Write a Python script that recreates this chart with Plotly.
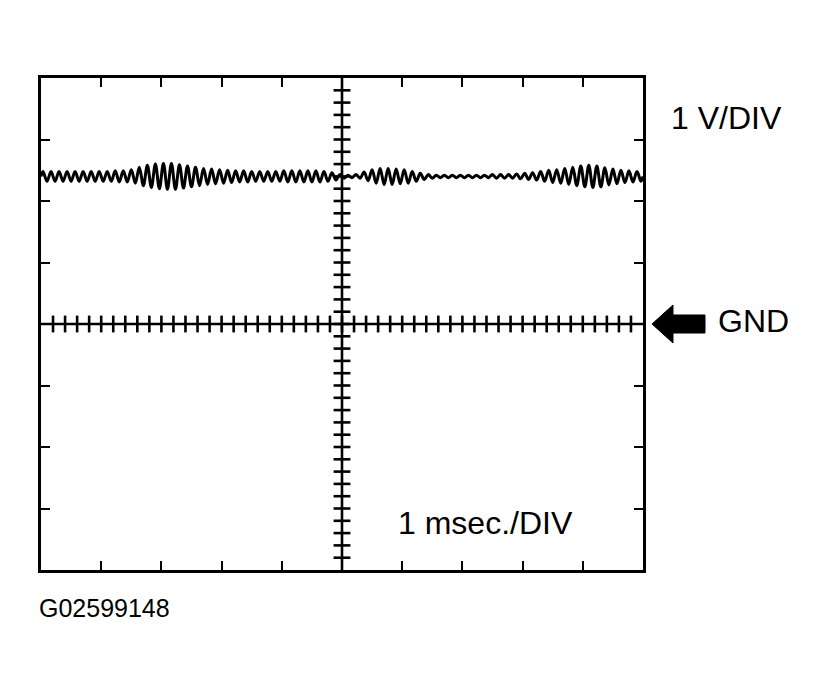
import numpy as np
import plotly.graph_objects as go

# ---- data ----
time_per_div_ms = 1.0
volts_per_div = 1.0
n_div_x = 10
n_div_y = 8
dc_level_v = 2.4          # trace level above GND
cycle_period_ms = 10.0 / 75   # one oscillation cycle (about 75 cycles on screen)
# peak amplitude (V) of each oscillation cycle, left to right
cycle_amplitude_v = [
    0.08, 0.08, 0.08, 0.08, 0.08, 0.08, 0.08, 0.08, 0.08, 0.09,
    0.09, 0.11, 0.15, 0.18, 0.20, 0.21, 0.21, 0.19, 0.17, 0.15,
    0.13, 0.12, 0.11, 0.10, 0.09, 0.09, 0.08, 0.08, 0.08, 0.08,
    0.09, 0.09, 0.09, 0.09, 0.09, 0.08, 0.06, 0.03, 0.02, 0.03,
    0.07, 0.11, 0.13, 0.13, 0.12, 0.11, 0.08, 0.05, 0.03, 0.02,
    0.02, 0.02, 0.02, 0.02, 0.02, 0.02, 0.03, 0.03, 0.03, 0.04,
    0.05, 0.06, 0.08, 0.10, 0.11, 0.13, 0.15, 0.17, 0.18, 0.17,
    0.14, 0.12, 0.10, 0.09, 0.08,
]
labels = {"volts": "1 V/DIV", "time": "1 msec./DIV", "gnd": "GND", "code": "G02599148"}

# ---- build trace from the extrema ----
t_pts = [0.0]
v_pts = [dc_level_v]
for k, a in enumerate(cycle_amplitude_v):
    t_pts += [(k + 0.25) * cycle_period_ms, (k + 0.75) * cycle_period_ms]
    v_pts += [dc_level_v + a, dc_level_v - a]
t_pts.append(n_div_x * time_per_div_ms)
v_pts.append(dc_level_v)

W, H = 828, 693
OFF = 8  # page body margin
L, T = 33, 70
pw, ph = 602, 492
R, B = W - L - pw, H - T - ph

def px(x):
    return (x - OFF - L) / pw

def py(y):
    return (H - B - (y - OFF)) / ph

fig = go.Figure()
fig.add_trace(go.Scatter(x=t_pts, y=v_pts, mode="lines",
                         line=dict(color="black", width=3.0, shape="spline", smoothing=1.0),
                         hoverinfo="skip", showlegend=False))

xmax = n_div_x * time_per_div_ms
ymax = n_div_y / 2 * volts_per_div
minor_x = [i * time_per_div_ms / 5 for i in range(1, n_div_x * 5)]
minor_y = [(-ymax) + i * volts_per_div / 5 for i in range(1, n_div_y * 5)]

fig.add_trace(go.Scatter(x=minor_x, y=[0] * len(minor_x), mode="markers",
                         marker=dict(symbol="line-ns", size=12, line=dict(width=2.6, color="black")),
                         hoverinfo="skip", showlegend=False))
fig.add_trace(go.Scatter(x=[xmax / 2] * len(minor_y), y=minor_y, mode="markers",
                         marker=dict(symbol="line-ew", size=12, line=dict(width=2.6, color="black")),
                         hoverinfo="skip", showlegend=False))

shapes = [
    dict(type="line", x0=xmax / 2, x1=xmax / 2, y0=-ymax, y1=ymax, xref="x", yref="y",
         line=dict(color="black", width=2.6)),
    dict(type="line", x0=0, x1=xmax, y0=0, y1=0, xref="x", yref="y",
         line=dict(color="black", width=2.6)),
]
arrow = [(652, 324), (673, 305), (673, 315), (705, 315), (705, 333), (673, 333), (673, 343)]
path = "M " + " L ".join(f"{px(a):.4f},{py(b):.4f}" for a, b in arrow) + " Z"
shapes.append(dict(type="path", path=path, xref="paper", yref="paper",
                   fillcolor="black", line=dict(color="black", width=1)))

font_big = dict(family="Liberation Sans, Arial, sans-serif", size=32, color="black")
font_small = dict(family="Liberation Sans, Arial, sans-serif", size=25, color="black")
ann = [
    dict(text=labels["volts"], x=px(669), y=py(118), font=font_big),
    dict(text=labels["gnd"], x=px(716), y=py(321), font=font_big),
    dict(text=labels["time"], x=px(396), y=py(523), font=font_big),
    dict(text=labels["code"], x=px(37), y=py(608), font=font_small),
]
for a in ann:
    a.update(xref="paper", yref="paper", xanchor="left", yanchor="middle", showarrow=False)

fig.update_layout(
    width=W, height=H, margin=dict(l=L, r=R, t=T, b=B),
    paper_bgcolor="white", plot_bgcolor="white",
    shapes=shapes, annotations=ann, showlegend=False,
    xaxis=dict(range=[0, xmax], tickvals=list(range(1, n_div_x)), showticklabels=False,
               ticks="inside", ticklen=9, tickwidth=2.4, tickcolor="black",
               showline=True, linewidth=3, linecolor="black", mirror="ticks",
               showgrid=False, zeroline=False, fixedrange=True),
    yaxis=dict(range=[-ymax, ymax], tickvals=[v for v in range(-3, 4)], showticklabels=False,
               ticks="inside", ticklen=9, tickwidth=2.4, tickcolor="black",
               showline=True, linewidth=3, linecolor="black", mirror="ticks",
               showgrid=False, zeroline=False, fixedrange=True),
)
fig.write_html("out.html")
